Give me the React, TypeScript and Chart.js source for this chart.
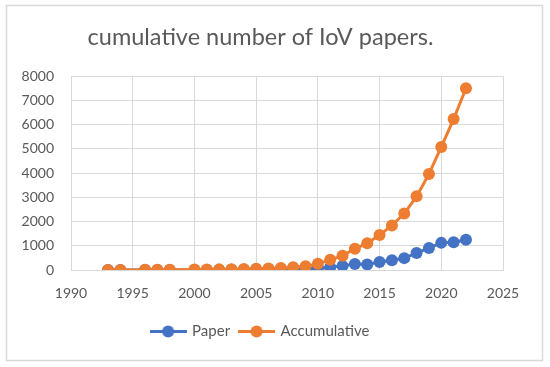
import React, { useEffect, useRef } from "react";
import { Chart, registerables } from "chart.js";

Chart.register(...registerables);

const titleText = "cumulative number of IoV papers.";
const years = [1993, 1994, 1996, 1997, 1998, 2000, 2001, 2002, 2003, 2004, 2005, 2006, 2007, 2008, 2009, 2010, 2011, 2012, 2013, 2014, 2015, 2016, 2017, 2018, 2019, 2020, 2021, 2022];
const paperCounts = [2, 2, 3, 2, 3, 4, 5, 5, 6, 8, 10, 15, 20, 30, 50, 70, 110, 170, 250, 230, 330, 400, 490, 700, 910, 1120, 1150, 1250];
const accumulativeCounts = [2, 4, 7, 9, 12, 16, 21, 26, 32, 40, 50, 65, 85, 115, 150, 260, 420, 590, 880, 1100, 1440, 1840, 2330, 3040, 3960, 5080, 6230, 7500];
const seriesNames = ["Paper", "Accumulative"];
const seriesColors = ["#4472C4", "#ED7D31"];

const FONT = "Lato, 'Open Sans', sans-serif";
const TEXT = "#595959";
const GRID = "#d9d9d9";

function legendIcon(color: string) {
  const c = document.createElement("canvas");
  c.width = 37;
  c.height = 13;
  const ctx = c.getContext("2d")!;
  ctx.strokeStyle = color;
  ctx.lineWidth = 3;
  ctx.beginPath();
  ctx.moveTo(0, 6.5);
  ctx.lineTo(37, 6.5);
  ctx.stroke();
  ctx.fillStyle = color;
  ctx.beginPath();
  ctx.arc(18.5, 6.5, 6, 0, Math.PI * 2);
  ctx.fill();
  return c;
}

const framePlugin = {
  id: "frame",
  beforeDraw(chart: any) {
    const ctx = chart.ctx;
    ctx.save();
    ctx.fillStyle = "#ffffff";
    ctx.fillRect(0, 0, chart.width, chart.height);
    ctx.strokeStyle = GRID;
    ctx.lineWidth = 1.5;
    ctx.strokeRect(6.5, 5.5, 536, 355);
    ctx.restore();
  },
};

export default function App() {
  const ref = useRef<HTMLCanvasElement>(null);
  useEffect(() => {
    if (!ref.current) return;
    const icons = seriesColors.map(legendIcon);
    const datasets = [paperCounts, accumulativeCounts].map((vals, i) => ({
      label: seriesNames[i],
      data: years.map((y, j) => ({ x: y, y: vals[j] })),
      borderColor: seriesColors[i],
      backgroundColor: seriesColors[i],
      pointBackgroundColor: seriesColors[i],
      pointBorderColor: seriesColors[i],
      pointRadius: 6,
      pointBorderWidth: 0,
      borderWidth: 3,
      showLine: true,
      order: i === 0 ? 1 : 0,
    }));
    const chart = new Chart(ref.current, {
      type: "scatter",
      data: { datasets },
      plugins: [framePlugin],
      options: {
        animation: false,
        responsive: false,
        devicePixelRatio: 1,
        layout: { padding: { left: 0, right: 29, top: 0, bottom: 18 } },
        plugins: {
          title: {
            display: true,
            text: titleText,
            color: TEXT,
            font: { family: FONT, size: 23.5, weight: "normal" },
            padding: { top: 23, bottom: 25 },
          },
          legend: {
            position: "bottom",
            labels: {
              usePointStyle: true,
              pointStyleWidth: 33,
              color: TEXT,
              font: { family: FONT, size: 15 },
              padding: 10,
              generateLabels: () =>
                seriesNames.map((n, i) => ({
                  text: n,
                  datasetIndex: i,
                  pointStyle: icons[i],
                  fillStyle: seriesColors[i],
                  strokeStyle: seriesColors[i],
                  fontColor: TEXT,
                  lineWidth: 0,
                  hidden: false,
                })),
            },
          },
          tooltip: { enabled: false },
        },
        scales: {
          x: {
            type: "linear",
            min: 1990,
            max: 2025,
            afterFit: (s: any) => {
              s.height = 44;
            },
            ticks: {
              stepSize: 5,
              color: TEXT,
              padding: 15,
              font: { family: FONT, size: 14 },
              callback: (v: any) => String(v),
            },
            grid: { color: GRID, drawTicks: false },
            border: { color: GRID },
          },
          y: {
            min: 0,
            max: 8000,
            afterFit: (s: any) => {
              s.width = 71;
            },
            ticks: {
              stepSize: 1000,
              color: TEXT,
              padding: 17,
              font: { family: FONT, size: 14 },
              callback: (v: any) => String(v),
            },
            grid: { color: GRID, drawTicks: false },
            border: { color: GRID },
          },
          spacer: {
            position: "right",
            min: 0,
            max: 1,
            afterFit: (s: any) => {
              s.width = 18;
            },
            ticks: { display: false },
            grid: { display: false, drawTicks: false },
            border: { display: false },
          },
        },
      },
    } as any);
    return () => chart.destroy();
  }, []);
  return (
    <div style={{ position: "absolute", left: 0, top: 0, width: 550, height: 367 }}>
      <canvas ref={ref} width={550} height={367} />
    </div>
  );
}
